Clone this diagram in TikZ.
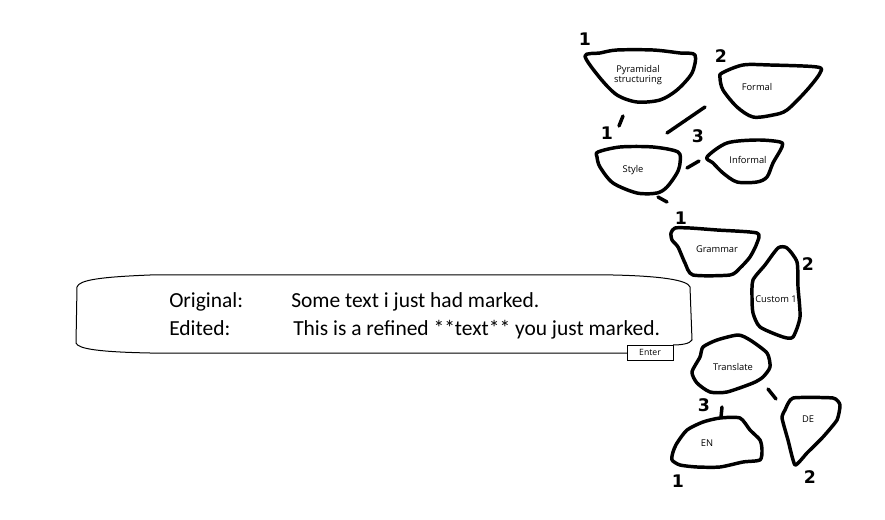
\documentclass[tikz,border=0pt]{standalone}
\usepackage{fontspec}
\setmainfont{Carlito}
\newfontfamily\lblfont{Open Sans}
\newfontfamily\numfont{DejaVu Sans}
\begin{document}
\begin{tikzpicture}[x=0.75pt,y=-0.75pt,
  blob/.style={line width=2.6pt,line join=round,line cap=round},
  link/.style={line width=2.6pt,line cap=round},
  lbl/.style={font=\lblfont\fontsize{7}{8}\selectfont,align=center,inner sep=0pt},
  num/.style={font=\numfont\bfseries\fontsize{13}{13}\selectfont,inner sep=0pt},
  big/.style={font=\fontsize{16.1}{18}\selectfont,anchor=base west,inner sep=0pt}]
\useasboundingbox (0,0) rectangle (885,520);

% main edit box
\draw[line width=0.75pt] (627,353) -- (150,353) .. controls (100,352) and (78,349) .. (76,343)
  -- (77,287) .. controls (79,280) and (100,277) .. (150,275) -- (613,275)
  .. controls (660,276) and (688,280) .. (690,287) -- (692,340)
  .. controls (690,344) and (680,345) .. (673,345);
\node[big] (origk) at (169,307) {Original:};
\node[big] (origv) at (291,307) {Some text i just had marked.};
\node[big] (editk) at (169,335) {Edited:};
\node[big] (editv) at (293,335) {This is a refined **text** you just marked.};
\node[draw,line width=0.75pt,inner sep=0pt,
  minimum width=34.5pt,minimum height=11.25pt,
  font=\lblfont\fontsize{6.5}{7}\selectfont] (enter) at (650,352.5) {Enter};

% blobs
\draw[blob] plot[smooth cycle,tension=0.5] coordinates {(585,56) (600,53) (617,50) (653,50) (680,53) (695,55) (692,73) (677,90) (660,100) (637,102) (617,95) (600,78)};
\node[lbl] (pyr) at (638,75) {Pyramidal\\structuring};

\draw[blob] plot[smooth cycle,tension=0.5] coordinates {(722,73) (743,65) (770,65) (817,67) (820,73) (807,90) (787,110) (773,115) (753,117) (737,107) (723,90) (720,78)};
\node[lbl] (formal) at (757,87) {Formal};

\draw[blob] plot[smooth cycle,tension=0.5] coordinates {(598,152) (620,147) (653,147) (678,152) (680,163) (677,173) (667,187) (657,193) (637,193) (613,183) (600,167) (597,157)};
\node[lbl] (style) at (633,170) {Style};

\draw[blob] plot[smooth cycle,tension=0.5] coordinates {(707,157) (727,143) (757,140) (780,142) (782,147) (773,163) (767,177) (757,182) (737,182) (723,173) (713,163)};
\node[lbl] (informal) at (748,160) {Informal};

\draw[blob] plot[smooth cycle,tension=0.4] coordinates {(671,233) (675,228) (690,228) (717,230) (757,233) (757,243) (750,257) (740,268) (730,275) (693,275) (685,263) (678,247) (672,240)};
\node[lbl] (grammar) at (717,249) {Grammar};

\draw[blob] plot[smooth cycle,tension=0.4] coordinates {(778,248) (787,248) (797,262) (798,287) (800,317) (793,337) (783,337) (760,327) (753,313) (752,297) (753,280) (765,265)};
\node[lbl] (custom) at (776,299) {Custom 1};

\draw[blob] plot[smooth cycle,tension=0.4] coordinates {(703,347) (717,340) (738,335) (750,340) (767,353) (770,367) (763,377) (753,383) (727,392) (710,392) (697,383) (692,372) (700,357)};
\node[lbl] (translate) at (733,367) {Translate};

\draw[blob] plot[smooth cycle,tension=0.4] coordinates {(677,443) (687,430) (703,422) (720,418) (740,418) (750,430) (760,440) (762,450) (760,460) (743,462) (720,467) (697,467) (680,465) (672,460) (673,452)};
\node[lbl] (en) at (707,443) {EN};

\draw[blob] plot[smooth cycle,tension=0.3] coordinates {(793,398) (833,398) (840,405) (837,420) (823,437) (807,453) (795,465) (788,440) (782,418) (785,410)};
\node[lbl] (de) at (808,419) {DE};

% connectors (free dashes)
\coordinate (c1a) at (623,116); \coordinate (c1b) at (619,126);
\coordinate (c2a) at (705,107); \coordinate (c2b) at (667,133);
\coordinate (c3a) at (687,168); \coordinate (c3b) at (699,161);
\coordinate (c4a) at (658,197); \coordinate (c4b) at (667,202);
\coordinate (c5a) at (722,407); \coordinate (c5b) at (721,417);
\coordinate (c6a) at (768,389); \coordinate (c6b) at (776,399);
\draw[link] (c1a) -- (c1b);
\draw[link] (c2a) -- (c2b);
\draw[link] (c3a) -- (c3b);
\draw[link] (c4a) -- (c4b);
\draw[link] (c5a) -- (c5b);
\draw[link] (c6a) -- (c6b);

% hand numbers
\node[num] (n1) at (585,39) {1};
\node[num] (n2) at (721,56) {2};
\node[num] (n3) at (607,133) {1};
\node[num] (n4) at (698,136) {3};
\node[num] (n5) at (681,218) {1};
\node[num] (n6) at (808,264) {2};
\node[num] (n7) at (704,405) {3};
\node[num] (n8) at (678,481) {1};
\node[num] (n9) at (810,477) {2};
\end{tikzpicture}
\end{document}
